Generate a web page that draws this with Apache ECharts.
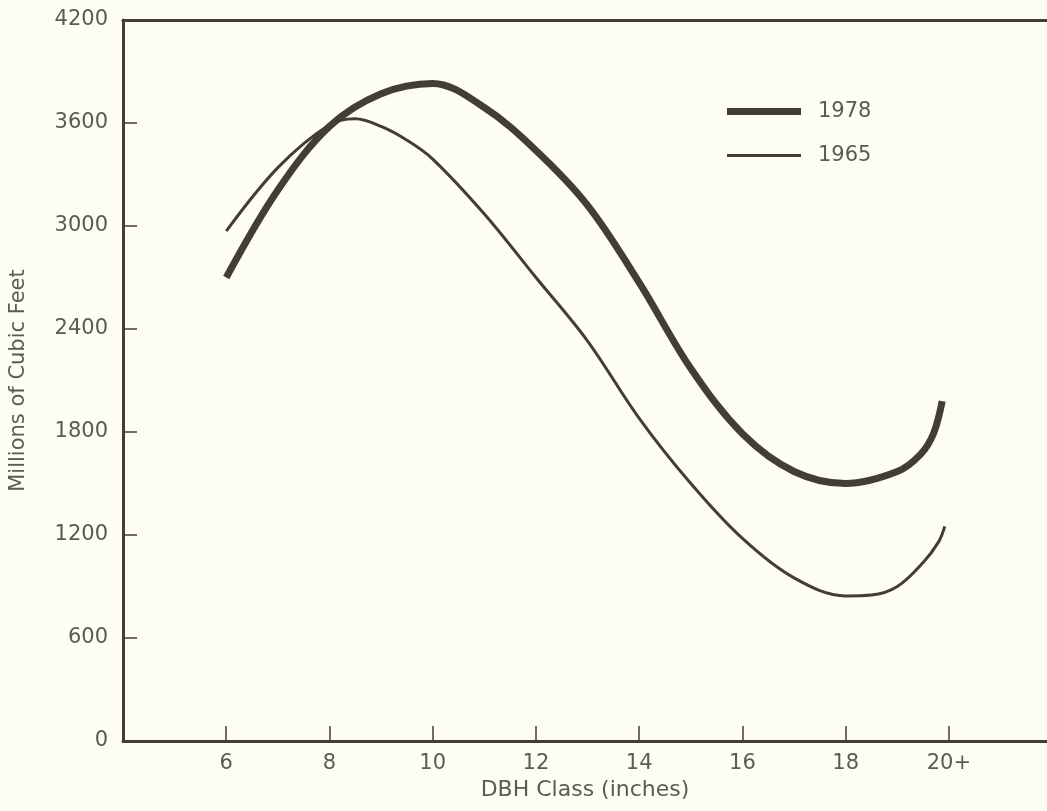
<!DOCTYPE html>
<html>
<head>
<meta charset="utf-8">
<script src="https://cdn.jsdelivr.net/npm/echarts@6/dist/echarts.min.js"></script>
<style>
  html, body { margin: 0; padding: 0; background: #fdfdf2; }
  #chart { width: 1047px; height: 811px; }
</style>
</head>
<body>
<div id="chart"></div>
<script>
// DBH class (inches) and volume (millions of cubic feet)
const x1978 = [6, 7, 8, 9, 10, 11, 12, 13, 14, 15, 16, 17, 18, 19, 19.45, 19.7, 19.87]
const y1978 = [2700, 3210, 3580, 3770, 3830, 3690, 3440, 3120, 2670, 2170, 1790, 1570, 1500, 1570, 1670, 1790, 1980]
const x1965 = [6, 7, 8, 8.5, 9, 9.5, 10, 11, 12, 13, 14, 15, 16, 17, 18, 18.5, 19, 19.5, 19.8, 19.92]
const y1965 = [2970, 3340, 3590, 3625, 3580, 3500, 3390, 3070, 2700, 2330, 1880, 1500, 1180, 950, 845, 850, 900, 1040, 1160, 1250]
const yTicks = [0, 600, 1200, 1800, 2400, 3000, 3600, 4200]
const xTickLabels = { 6: '6', 8: '8', 10: '10', 12: '12', 14: '14', 16: '16', 18: '18', 20: '20+' }

const ink = '#433e35'
const textColor = '#5b5a54'
const font = 'DejaVu Sans'

const pairs = (xs, ys) => xs.map((x, i) => [x, ys[i]])

const chart = echarts.init(document.getElementById('chart'))
chart.setOption({
  backgroundColor: '#fdfdf2',
  animation: false,
  grid: {
    left: 123,
    right: 0,
    top: 20,
    bottom: 70
  },
  legend: {
    orient: 'vertical',
    left: 722,
    top: 96,
    itemWidth: 74,
    itemHeight: 14,
    itemGap: 23,
    textStyle: { fontFamily: font, fontSize: 21, color: textColor, padding: [0, 0, 0, 12] },
    data: [
      { name: '1978', itemStyle: { color: ink }, icon: 'path://M0,0 L74,0 L74,7 L0,7 Z' },
      { name: '1965', itemStyle: { color: ink }, icon: 'path://M0,0 L74,0 L74,3 L0,3 Z' }
    ]
  },
  xAxis: [
    {
      type: 'value',
      min: 4,
      max: 21.9,
      interval: 2,
      name: 'DBH Class (inches)',
      nameLocation: 'middle',
      nameGap: 38,
      nameTextStyle: { fontFamily: font, fontSize: 22, color: textColor },
      splitLine: { show: false },
      axisLine: { lineStyle: { color: ink, width: 3 } },
      axisTick: { inside: true, length: 15, lineStyle: { color: ink, width: 1.5 } },
      axisLabel: {
        fontFamily: font, fontSize: 21, color: textColor, margin: 12,
        showMaxLabel: false,
        formatter: v => xTickLabels[v] || ''
      }
    },
    {
      // top frame line only
      type: 'value',
      position: 'top',
      min: 4,
      max: 21.9,
      axisLine: { show: true, lineStyle: { color: ink, width: 3 } },
      axisTick: { show: false },
      axisLabel: { show: false },
      splitLine: { show: false }
    }
  ],
  yAxis: {
    type: 'value',
    min: yTicks[0],
    max: yTicks[yTicks.length - 1],
    interval: 600,
    name: 'Millions of Cubic Feet',
    nameLocation: 'middle',
    nameRotate: 90,
    nameGap: 94,
    nameTextStyle: { fontFamily: font, fontSize: 21, color: textColor },
    splitLine: { show: false },
    axisLine: { lineStyle: { color: ink, width: 3 } },
    axisTick: { inside: true, length: 14, lineStyle: { color: ink, width: 1.5 } },
    axisLabel: { fontFamily: font, fontSize: 21, color: textColor, margin: 15, formatter: v => String(v) }
  },
  series: [
    {
      name: '1978',
      type: 'line',
      data: pairs(x1978, y1978),
      smooth: 0.35,
      symbol: 'none',
      lineStyle: { color: ink, width: 7, cap: 'butt' },
      itemStyle: { color: ink }
    },
    {
      name: '1965',
      type: 'line',
      data: pairs(x1965, y1965),
      smooth: 0.35,
      symbol: 'none',
      lineStyle: { color: ink, width: 3, cap: 'butt' },
      itemStyle: { color: ink }
    }
  ]
})
</script>
</body>
</html>
